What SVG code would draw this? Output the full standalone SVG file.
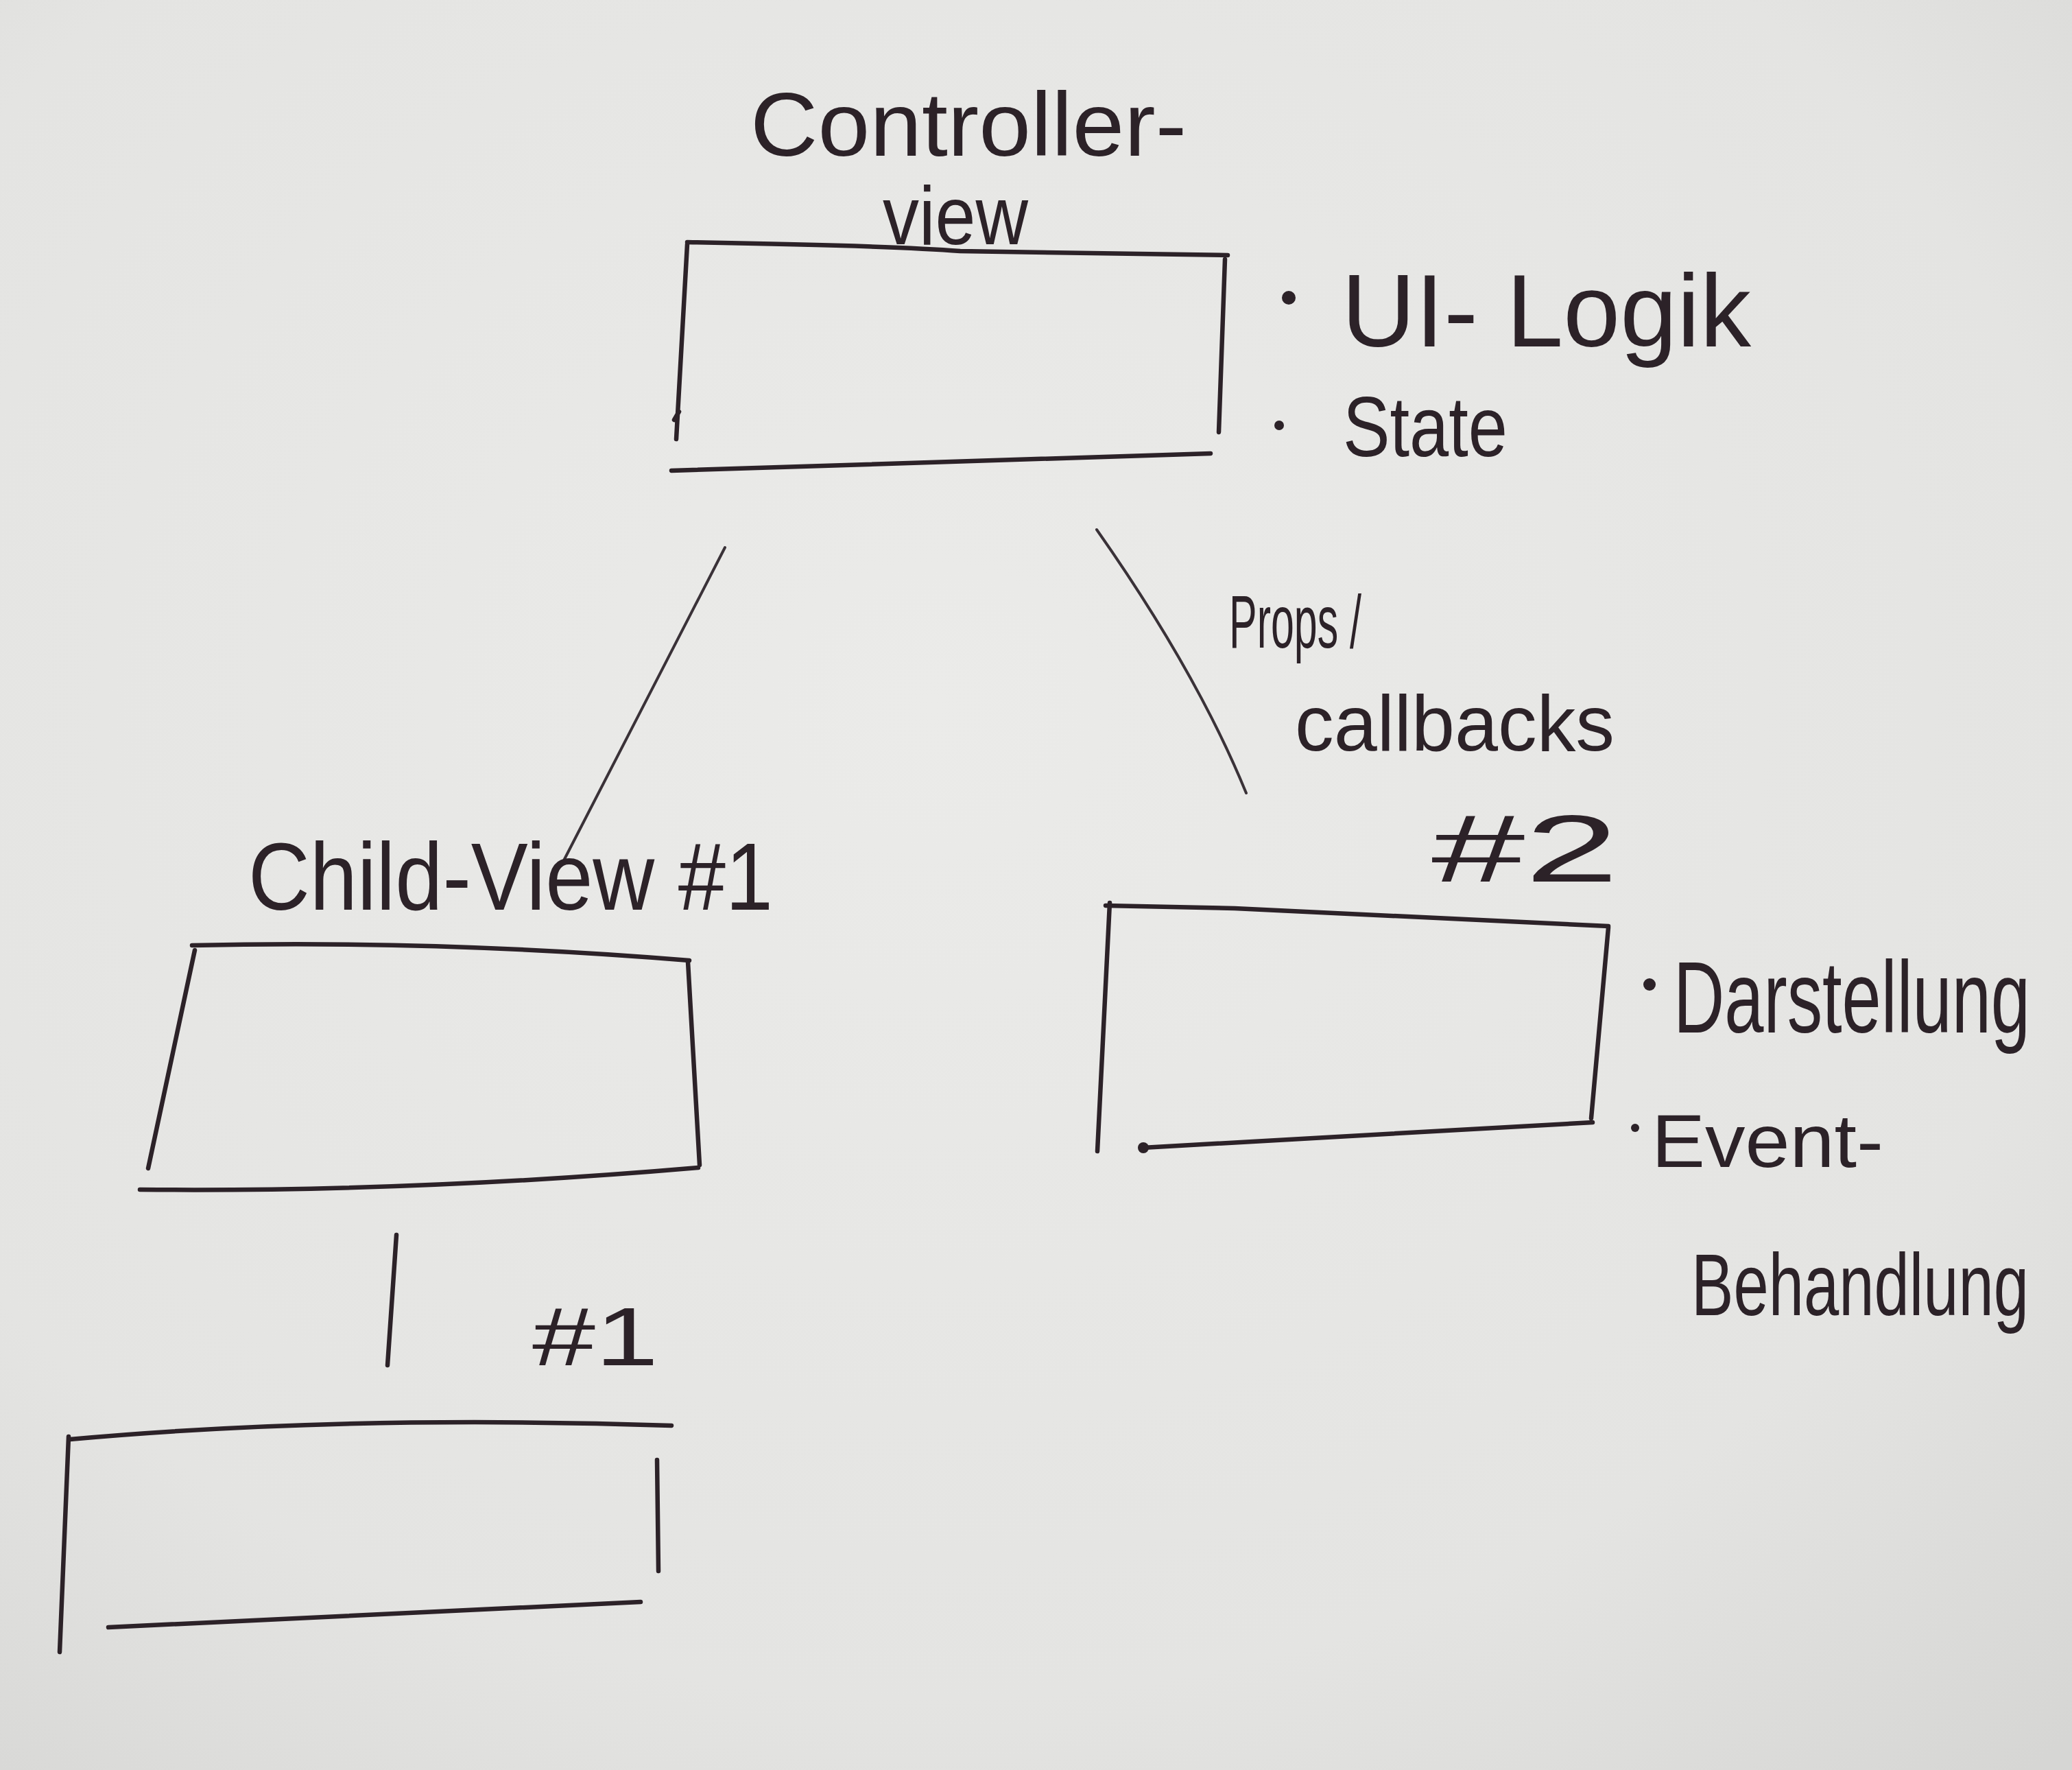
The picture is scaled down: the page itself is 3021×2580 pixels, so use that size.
<svg xmlns="http://www.w3.org/2000/svg" width="3021" height="2580" viewBox="0 0 3021 2580">
<defs>
<radialGradient id="paper" cx="0.45" cy="0.4" r="0.8">
<stop offset="0" stop-color="#ebebe9"/>
<stop offset="0.7" stop-color="#e4e4e2"/>
<stop offset="1" stop-color="#d6d6d4"/>
</radialGradient>
<style>
.ink{fill:none;stroke:#2c2228;stroke-width:6.5;stroke-linecap:round;stroke-linejoin:round}
.thin{fill:none;stroke:#3a3238;stroke-width:4;stroke-linecap:round}
.t{font-family:"Liberation Sans","DejaVu Sans",sans-serif;fill:#2c2228;font-weight:normal}
.dot{fill:#2c2228}
</style>
</defs>
<rect x="0" y="0" width="3021" height="2580" fill="url(#paper)"/>

<g id="connectors">
<path class="thin" d="M1057,798 L818,1262"/>
<path class="thin" d="M1599,772 Q1745,980 1817,1156"/>
<path class="ink" d="M578,1800 L565,1990"/>
</g>

<g id="controller-view">
<path class="ink" d="M1002,353 Q1300,358 1400,366 L1790,372"/>
<path class="ink" d="M1002,356 L986,640 M983,612 L990,600"/>
<path class="ink" d="M979,686 L1765,661"/>
<path class="ink" d="M1786,378 L1777,630"/>
<text class="t" x="1094" y="227" font-size="132" textLength="636" lengthAdjust="spacingAndGlyphs">Controller-</text>
<text class="t" x="1287" y="356" font-size="120" textLength="212" lengthAdjust="spacingAndGlyphs">view</text>
<circle class="dot" cx="1879" cy="434" r="10"/>
<text class="t" x="1956" y="505" font-size="150" textLength="597" lengthAdjust="spacingAndGlyphs">UI- Logik</text>
<circle class="dot" cx="1865" cy="620" r="7"/>
<text class="t" x="1958" y="665" font-size="125" textLength="240" lengthAdjust="spacingAndGlyphs">State</text>
</g>

<g id="edge-label">
<text class="t" x="1792" y="944" font-size="110" textLength="193" lengthAdjust="spacingAndGlyphs">Props /</text>
<text class="t" x="1888" y="1094" font-size="115" textLength="466" lengthAdjust="spacingAndGlyphs">callbacks</text>
</g>

<g id="child-view-1">
<text class="t" x="362" y="1326" font-size="140" textLength="765" lengthAdjust="spacingAndGlyphs">Child-View #1</text>
<path class="ink" d="M280,1378 Q640,1370 1005,1400"/>
<path class="ink" d="M284,1385 L216,1703"/>
<path class="ink" d="M204,1734 Q600,1738 1018,1702"/>
<path class="ink" d="M1003,1402 L1020,1698"/>
</g>

<g id="child-view-2">
<text class="t" x="2087" y="1285" font-size="140" textLength="273" lengthAdjust="spacingAndGlyphs">#2</text>
<path class="ink" d="M1612,1320 L1800,1324 L2345,1350"/>
<path class="ink" d="M1618,1316 L1600,1678"/>
<path class="ink" d="M2345,1352 L2320,1630"/>
<path class="ink" d="M1666,1673 L2322,1636"/>
<circle class="dot" cx="1667" cy="1673" r="8"/>
<circle class="dot" cx="2405" cy="1435" r="9"/>
<text class="t" transform="translate(2440,1505) scale(1,1.35)" x="0" y="0" font-size="110" textLength="520" lengthAdjust="spacingAndGlyphs">Darstellung</text>
<circle class="dot" cx="2384" cy="1644" r="6"/>
<text class="t" x="2408" y="1701" font-size="110" textLength="338" lengthAdjust="spacingAndGlyphs">Event-</text>
<text class="t" transform="translate(2466,1917) scale(1,1.35)" x="0" y="0" font-size="95" textLength="492" lengthAdjust="spacingAndGlyphs">Behandlung</text>
</g>

<g id="child-view-1-sub">
<text class="t" x="776" y="1990" font-size="120" textLength="184" lengthAdjust="spacingAndGlyphs">#1</text>
<path class="ink" d="M102,2098 Q500,2062 979,2078"/>
<path class="ink" d="M100,2094 L87,2408"/>
<path class="ink" d="M958,2128 L960,2290"/>
<path class="ink" d="M158,2372 L934,2335"/>
</g>
</svg>
